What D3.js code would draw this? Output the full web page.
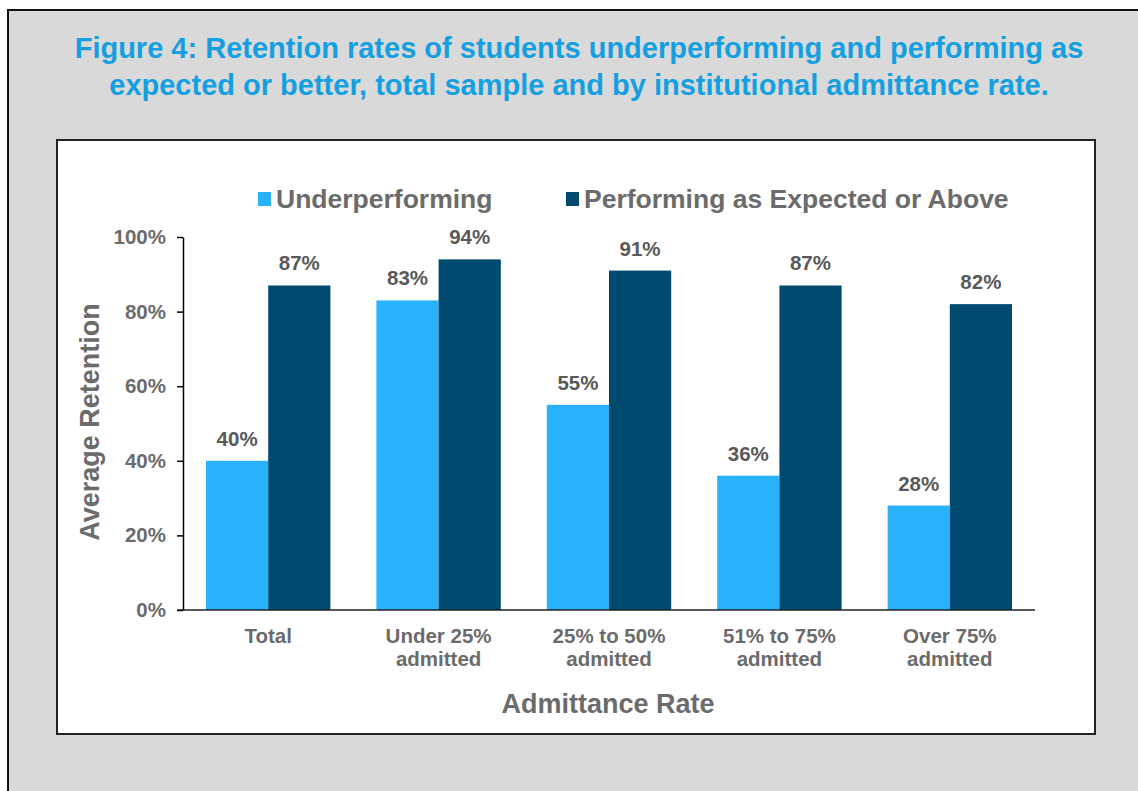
<!DOCTYPE html>
<html>
<head>
<meta charset="utf-8">
<script src="https://cdn.jsdelivr.net/npm/d3@7"></script>
<style>
  body { margin: 0; background: #fff; }
  text { font-family: "Liberation Sans", Arial, sans-serif; font-weight: bold; }
</style>
</head>
<body>
<div id="chart"></div>
<script>
// data
var categories = [["Total"], ["Under 25%", "admitted"], ["25% to 50%", "admitted"], ["51% to 75%", "admitted"], ["Over 75%", "admitted"]];
var seriesNames = ["Underperforming", "Performing as Expected or Above"];
var underperforming = [40, 83, 55, 36, 28];
var performing = [87, 94, 91, 87, 82];
var yTicks = [0, 20, 40, 60, 80, 100];
var colors = ["#29b1fc", "#004a70"];

var W = 1138, H = 791;
var svg = d3.select("#chart").append("svg")
    .attr("width", W)
    .attr("height", H);

// outer gray frame
svg.append("rect")
    .attr("x", 8).attr("y", 10)
    .attr("width", W + 10).attr("height", H + 10)
    .attr("fill", "#d9d9d9")
    .attr("stroke", "#111")
    .attr("stroke-width", 2);

// title
var title = ["Figure 4: Retention rates of students underperforming and performing as",
             "expected or better, total sample and by institutional admittance rate."];
svg.selectAll(".title")
  .data(title)
  .enter().append("text")
    .attr("class", "title")
    .attr("x", 579)
    .attr("y", function(d, i){ return 58 + i * 37; })
    .attr("text-anchor", "middle")
    .attr("font-size", 29)
    .attr("fill", "#14a0e0")
    .text(function(d){ return d; });

// inner white chart box
svg.append("rect")
    .attr("x", 57).attr("y", 140)
    .attr("width", 1038).attr("height", 594)
    .attr("fill", "#fff")
    .attr("stroke", "#222")
    .attr("stroke-width", 2);

var plot = {left: 183, right: 1035, top: 237, bottom: 610};

var x0 = d3.scaleBand()
    .domain(d3.range(categories.length))
    .range([plot.left, plot.right])
    .paddingInner(0.27)
    .paddingOuter(0.135);
var x1 = d3.scaleBand()
    .domain([0, 1])
    .range([0, x0.bandwidth()]);
var y = d3.scaleLinear()
    .domain([0, 100])
    .range([plot.bottom, plot.top]);

// bars
var groups = svg.selectAll(".grp")
  .data(categories.map(function(c, i){ return [underperforming[i], performing[i]]; }))
  .enter().append("g")
    .attr("class", "grp")
    .attr("transform", function(d, i){ return "translate(" + x0(i) + ",0)"; });

groups.selectAll("rect")
  .data(function(d){ return d; })
  .enter().append("rect")
    .attr("x", function(d, j){ return x1(j); })
    .attr("y", function(d){ return y(d); })
    .attr("width", x1.bandwidth())
    .attr("height", function(d){ return y(0) - y(d); })
    .attr("fill", function(d, j){ return colors[j]; });

groups.selectAll(".lbl")
  .data(function(d){ return d; })
  .enter().append("text")
    .attr("class", "lbl")
    .attr("x", function(d, j){ return x1(j) + x1.bandwidth() / 2; })
    .attr("y", function(d){ return y(d) - 15; })
    .attr("text-anchor", "middle")
    .attr("font-size", 20.5)
    .attr("fill", "#595959")
    .text(function(d){ return d + "%"; });

// y axis
var yAxis = svg.append("g")
    .attr("transform", "translate(" + plot.left + ",0)")
    .call(d3.axisLeft(y).tickValues(yTicks).tickSize(6).tickSizeOuter(0)
      .tickFormat(function(d){ return d + "%"; }));
yAxis.select(".domain").attr("stroke", "#000").attr("stroke-width", 1.5);
yAxis.selectAll(".tick line").attr("stroke", "#000").attr("stroke-width", 1.5);
yAxis.selectAll(".tick text")
    .attr("x", -17)
    .attr("font-size", 20.5)
    .attr("font-family", "Liberation Sans, Arial, sans-serif")
    .attr("font-weight", "bold")
    .attr("fill", "#6b6b6b");

// x axis line
svg.append("line")
    .attr("x1", plot.left - 6).attr("x2", plot.right)
    .attr("y1", y(0)).attr("y2", y(0))
    .attr("stroke", "#222").attr("stroke-width", 1.5);

// category labels
var catText = svg.selectAll(".cat")
  .data(categories)
  .enter().append("text")
    .attr("class", "cat")
    .attr("x", function(d, i){ return x0(i) + x0.bandwidth() / 2; })
    .attr("y", 643)
    .attr("text-anchor", "middle")
    .attr("font-size", 20.5)
    .attr("fill", "#6b6b6b");
catText.selectAll("tspan")
  .data(function(d){ return d; })
  .enter().append("tspan")
    .attr("x", function(){ return d3.select(this.parentNode).attr("x"); })
    .attr("dy", function(d, i){ return i ? 23 : 0; })
    .text(function(d){ return d; });

// axis titles
svg.append("text")
    .attr("x", 608)
    .attr("y", 713)
    .attr("text-anchor", "middle")
    .attr("font-size", 27)
    .attr("fill", "#6b6b6b")
    .text("Admittance Rate");

svg.append("text")
    .attr("transform", "translate(99,422) rotate(-90)")
    .attr("text-anchor", "middle")
    .attr("font-size", 27)
    .attr("fill", "#6b6b6b")
    .text("Average Retention");

// legend
var legendX = [258, 566];
var legend = svg.selectAll(".leg")
  .data(seriesNames)
  .enter().append("g")
    .attr("class", "leg")
    .attr("transform", function(d, i){ return "translate(" + legendX[i] + ",192)"; });
legend.append("rect")
    .attr("width", 13).attr("height", 14)
    .attr("fill", function(d, i){ return colors[i]; });
legend.append("text")
    .attr("x", 18)
    .attr("y", 16)
    .attr("font-size", 26.5)
    .attr("fill", "#6b6b6b")
    .text(function(d){ return d; });
</script>
</body>
</html>
